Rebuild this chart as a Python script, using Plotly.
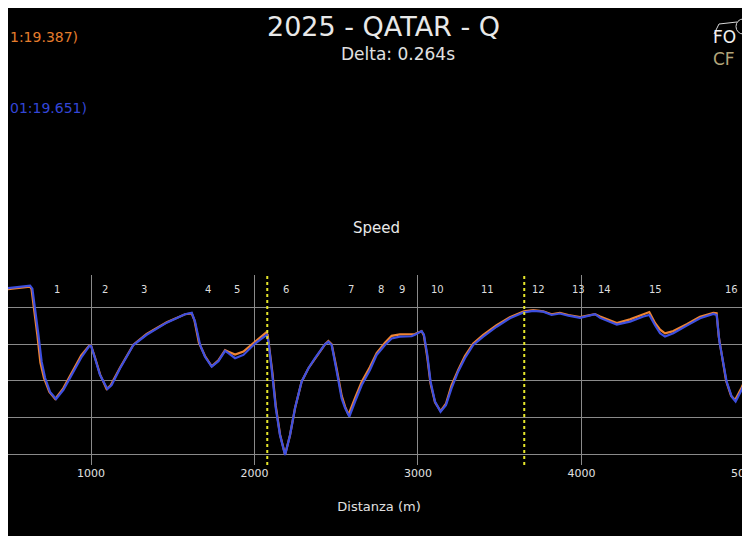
import plotly.graph_objects as go

# orange lap (faster)
dist_a = [443, 520, 600, 627, 636, 652, 672, 690, 712, 745, 781, 830, 880, 940, 990, 1000,
          1024, 1055, 1095, 1120, 1177, 1259, 1340, 1463, 1575, 1616, 1632, 1660, 1697, 1738,
          1779, 1820, 1840, 1881, 1932, 2003, 2070, 2080, 2109, 2130, 2156, 2187, 2217, 2248,
          2288, 2329, 2370, 2401, 2431, 2452, 2472, 2503, 2533, 2554, 2575, 2615, 2656, 2706,
          2747, 2798, 2839, 2889, 2961, 2981, 3022, 3036, 3057, 3077, 3104, 3138, 3171, 3205,
          3246, 3287, 3338, 3399, 3481, 3562, 3648, 3705, 3766, 3817, 3868, 3920, 3991, 4083,
          4114, 4216, 4297, 4379, 4415, 4450, 4481, 4511, 4562, 4644, 4725, 4807, 4827, 4840,
          4865, 4885, 4915, 4940, 4980, 5031]
speed_a = [324, 325.5, 328, 328.5, 325, 300, 262, 225, 204, 185, 175.5, 190, 211, 235, 248.5, 248,
           232, 209, 189, 194, 218, 249.5, 264, 280, 291, 292, 283, 252, 234, 220,
           228, 242, 240, 236, 240, 254, 266, 263, 212, 166, 127, 99.5, 126, 163,
           199, 217, 231, 240, 250, 254.5, 250, 216, 180, 165, 154, 177, 199, 219,
           238, 252, 261.5, 263.6, 263.6, 264, 268, 262, 232, 196, 171, 159, 169, 194,
           215, 234, 251, 263, 276, 287, 295, 296.5, 295, 291, 293, 290, 287, 291,
           288, 279, 284, 291, 294, 279, 270, 265, 268, 277.5, 287.5, 293, 292.5, 260,
           225, 200, 180, 174, 191, 217]

# blue lap
dist_b = [443, 520, 600, 627, 641, 657, 678, 698, 719, 749, 786, 831, 882, 943, 990, 1000,
          1024, 1055, 1100, 1126, 1177, 1259, 1340, 1463, 1575, 1616, 1636, 1667, 1697, 1738,
          1779, 1820, 1840, 1881, 1932, 2003, 2074, 2085, 2109, 2130, 2156, 2187, 2217, 2248,
          2288, 2329, 2370, 2401, 2431, 2452, 2472, 2503, 2533, 2554, 2580, 2615, 2656, 2706,
          2747, 2798, 2839, 2889, 2961, 2981, 3022, 3036, 3057, 3077, 3104, 3138, 3171, 3205,
          3246, 3287, 3338, 3399, 3481, 3562, 3648, 3705, 3766, 3817, 3868, 3920, 3991, 4083,
          4114, 4216, 4297, 4379, 4415, 4450, 4481, 4511, 4562, 4644, 4725, 4807, 4827, 4844,
          4868, 4888, 4919, 4943, 4980, 5031]
speed_b = [325.5, 327, 329.5, 330, 326, 301, 263, 226, 204, 185, 175.5, 188, 208, 233, 248, 248,
           231, 208, 189, 194.5, 217, 249, 263, 279.5, 291, 293, 281, 249, 233, 219.5,
           227, 241, 238, 231, 235.5, 251, 263, 254, 208, 163, 126, 99, 126, 163,
           199, 217, 231, 240, 250, 253.6, 249, 213, 176, 163, 151.4, 172, 194.5, 215,
           235.5, 249, 258, 260.5, 261, 263, 268, 263.6, 235.5, 199, 172, 158, 167, 190,
           213, 231, 249, 260.5, 274, 285.5, 293.6, 295.5, 294.5, 290, 292, 289, 286, 291,
           286, 277, 281, 288, 290, 276, 265, 260.5, 265, 275.5, 285.5, 291.4, 290, 253.6,
           222, 199, 178.6, 172, 188, 215]

corner_labels = ["1", "2", "3", "4", "5", "6", "7", "8", "9", "10", "11", "12", "13", "14", "15", "16"]
corner_dist = [792, 1086, 1324, 1716, 1893, 2193, 2590, 2774, 2902, 3122, 3428, 3740, 3979, 4138, 4450, 4920]
sector_dist = [2078, 3650]

ORANGE = "#ee8433"
BLUE = "#3d4fe0"
GRID = "#8a8a8a"

# the page puts the figure 8px in from the window corner
OFF = 8
W, H = 750 - OFF, 536 - OFF
top, bottom = 275 - OFF, 465 - OFF

fig = go.Figure()
fig.add_trace(go.Scatter(x=dist_a, y=speed_a, mode="lines", line=dict(color=ORANGE, width=2.2),
                         showlegend=False, hoverinfo="skip"))
fig.add_trace(go.Scatter(x=dist_b, y=speed_b, mode="lines", line=dict(color=BLUE, width=2.2),
                         showlegend=False, hoverinfo="skip"))

for d in sector_dist:
    fig.add_shape(type="line", x0=d, x1=d, y0=0, y1=1, xref="x", yref="paper",
                  line=dict(color="#e6e62a", width=2, dash="dot"))

for lbl, d in zip(corner_labels, corner_dist):
    fig.add_annotation(x=d, y=0.963, xref="x", yref="paper", text=lbl, showarrow=False,
                       font=dict(family="DejaVu Sans", size=10, color="#dddddd"))


def px(x):
    return (x - OFF) / W


def py(y):
    return (bottom - (y - OFF)) / (bottom - top)


texts = [
    dict(x=px(383), y=py(26), text="2025 - QATAR - Q", size=27, color="#e8e8e8", xanchor="center"),
    dict(x=px(398), y=py(54), text="Delta: 0.264s", size=17, color="#e0e0e0", xanchor="center"),
    dict(x=0, y=py(37), text="1:19.387)", size=14, color="#e57d2c", xanchor="left"),
    dict(x=0, y=py(108), text="01:19.651)", size=14, color="#3346d6", xanchor="left"),
    dict(x=px(376), y=py(228), text="Speed", size=15, color="#e8e8e8", xanchor="center"),
    dict(x=px(711), y=py(48), text="FO<br><span style='color:#b3a57a'>CF</span>", size=17,
         color="#f0f0f0", xanchor="left"),
]
for t in texts:
    fig.add_annotation(x=t["x"], y=t["y"], xref="paper", yref="paper", text=t["text"],
                       showarrow=False, xanchor=t["xanchor"], yanchor="middle", align="left",
                       font=dict(family="DejaVu Sans", size=t["size"], color=t["color"]))

# small logo outline above the letters
fig.add_shape(type="circle", xref="paper", yref="paper",
              x0=px(736), x1=px(750), y0=py(34), y1=py(19),
              line=dict(color="#d8d8d8", width=1))
fig.add_shape(type="path", xref="paper", yref="paper",
              path=f"M {px(714)},{py(34)} L {px(719)},{py(24)} L {px(737)},{py(22)}",
              line=dict(color="#d8d8d8", width=1))

fig.update_layout(
    width=W, height=H,
    margin=dict(l=0, r=0, t=top, b=H - bottom),
    plot_bgcolor="black",
    paper_bgcolor="black",
    font=dict(family="DejaVu Sans", color="#e0e0e0"),
    xaxis=dict(range=[443 + OFF / 0.16347, 5031], tick0=0, dtick=1000, showgrid=True,
               gridcolor=GRID, gridwidth=1, zeroline=False, showline=False, ticks="",
               ticklabeloverflow="allow", automargin=False,
               tickfont=dict(size=11, color="#e0e0e0"),
               title=dict(text="Distanza (m)", font=dict(size=13, color="#e0e0e0"), standoff=22)),
    yaxis=dict(range=[85.4, 344.5], tick0=0, dtick=50, showgrid=True, gridcolor=GRID, gridwidth=1,
               zeroline=False, showline=False, showticklabels=False, ticks="", automargin=False),
)

fig.write_html("out.html")
